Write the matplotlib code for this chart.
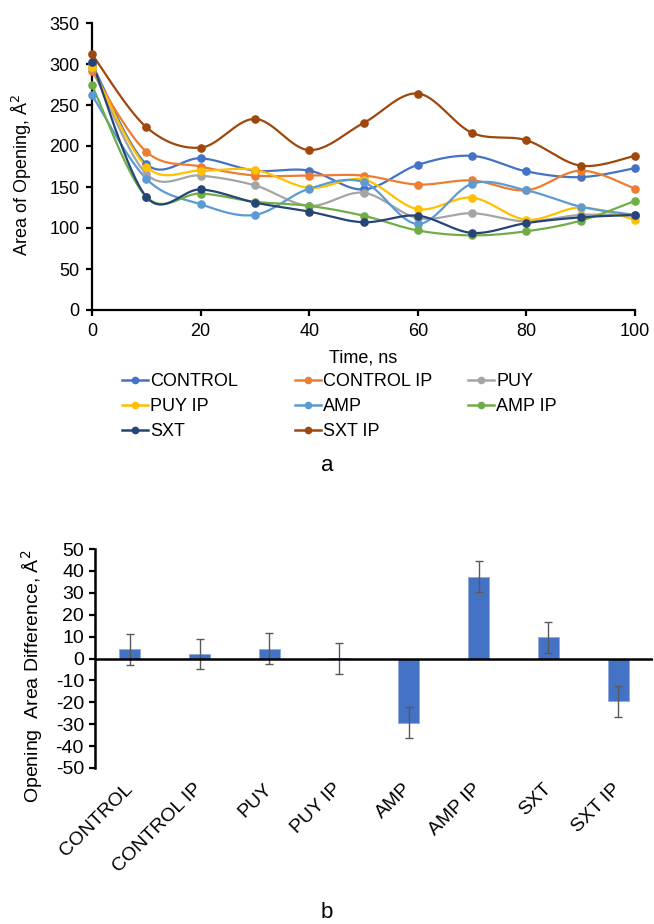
import matplotlib.pyplot as plt
import numpy as np
from matplotlib.ticker import FuncFormatter

plt.rcParams["font.family"] = ["Liberation Sans", "DejaVu Sans"]

# Panel a: area of opening over time
time_ns = [0, 10, 20, 30, 40, 50, 60, 70, 80, 90, 100]
series_names = ["CONTROL", "CONTROL IP", "PUY", "PUY IP", "AMP", "AMP IP", "SXT", "SXT IP"]
control = [300, 178, 185, 170, 170, 147, 177, 188, 169, 162, 173]
control_ip = [291, 193, 175, 164, 164, 164, 153, 158, 146, 170, 148]
puy = [295, 166, 164, 152, 127, 143, 112, 118, 108, 116, 115]
puy_ip = [296, 175, 170, 171, 149, 159, 123, 137, 110, 125, 110]
amp = [262, 160, 129, 116, 148, 156, 105, 154, 146, 126, 116]
amp_ip = [274, 138, 142, 132, 127, 115, 97, 91, 96, 109, 133]
sxt = [302, 138, 147, 131, 120, 107, 115, 94, 106, 113, 116]
sxt_ip = [312, 223, 198, 233, 195, 228, 264, 216, 207, 176, 188]
series_colors = ["#4472C4", "#ED7D31", "#A5A5A5", "#FFC000",
                 "#5B9BD5", "#70AD47", "#264478", "#9E480E"]

# Panel b: opening area difference
groups = ["CONTROL", "CONTROL IP", "PUY", "PUY IP", "AMP", "AMP IP", "SXT", "SXT IP"]
diff = [4.2, 2.0, 4.5, 0.1, -29.3, 37.4, 9.6, -19.6]
diff_err = [7, 7, 7, 7, 7, 7, 7, 7]


def smooth(x, y, n=30):
    # Excel-like smoothed line: cubic Bezier segments with Catmull-Rom control points
    x = np.asarray(x, float)
    y = np.asarray(y, float)
    xs, ys = [], []
    for i in range(len(x) - 1):
        p0 = np.array([x[max(i - 1, 0)], y[max(i - 1, 0)]])
        p1 = np.array([x[i], y[i]])
        p2 = np.array([x[i + 1], y[i + 1]])
        p3 = np.array([x[min(i + 2, len(x) - 1)], y[min(i + 2, len(x) - 1)]])
        c1 = p1 + (p2 - p0) / 6
        c2 = p2 - (p3 - p1) / 6
        t = np.linspace(0, 1, n)[:, None]
        pts = ((1 - t) ** 3) * p1 + 3 * ((1 - t) ** 2) * t * c1 + 3 * (1 - t) * t ** 2 * c2 + t ** 3 * p2
        xs.extend(pts[:, 0])
        ys.extend(pts[:, 1])
    return np.array(xs), np.array(ys)


W, H = 654, 924
fig = plt.figure(figsize=(W / 100, H / 100), dpi=100)

# ---- panel a ----
ax1 = fig.add_axes([92 / W, 1 - 310 / H, (635 - 92) / W, (310 - 23) / H])
all_series = [control, control_ip, puy, puy_ip, amp, amp_ip, sxt, sxt_ip]
handles = []
for name, vals, col in zip(series_names, all_series, series_colors):
    sx, sy = smooth(time_ns, vals)
    ax1.plot(sx, sy, color=col, linewidth=1.6, zorder=2, clip_on=False)
    ax1.plot(time_ns, vals, linestyle="none", marker="o", markersize=5.2,
             color=col, zorder=3, clip_on=False)
    h, = ax1.plot([], [], color=col, linewidth=1.8, marker="o", markersize=4.5, label=name)
    handles.append(h)

ax1.set_xlim(0, 100)
ax1.set_ylim(0, 350)
ax1.set_xticks(range(0, 101, 20))
ax1.set_yticks(range(0, 351, 50))
for side in ["top", "right"]:
    ax1.spines[side].set_visible(False)
for side in ["left", "bottom"]:
    ax1.spines[side].set_linewidth(1.6)
    ax1.spines[side].set_color("black")
ax1.tick_params(labelsize=13, width=1.6, length=4, direction="out", pad=5)
ax1.set_xlabel("Time, ns", fontsize=13)
ax1.xaxis.set_label_coords(0.5, (310 - 358) / 287, transform=ax1.transAxes)
ax1.xaxis.label.set_va("center")
ax1.set_ylabel("Area of Opening, Å$^2$", fontsize=13)
ax1.yaxis.set_label_coords((22 - 92) / 543, 0.47)
ax1.yaxis.label.set_va("center")

# legend: three columns of equal width like the original
col_x = [122, 295, 468]
col_items = [[0, 3, 6], [1, 4, 7], [2, 5]]
for cx, items in zip(col_x, col_items):
    fig.legend([handles[i] for i in items], [series_names[i] for i in items],
               loc="upper left", bbox_to_anchor=(cx / W, 1 - 373 / H),
               frameon=False, fontsize=13, handlelength=1.45, handletextpad=0.12,
               labelspacing=0.45, borderpad=0, borderaxespad=0)

fig.text(327 / W, 1 - 466 / H, "a", ha="center", va="center", fontsize=16)

# ---- panel b ----
ax2 = fig.add_axes([95 / W, 1 - 768 / H, (653 - 95) / W, (768 - 549) / H])
xpos = np.arange(len(groups))
ax2.bar(xpos, diff, width=0.3, color="#4472C4", edgecolor="#8FAADC", linewidth=0.6,
        zorder=2)
ax2.errorbar(xpos, diff, yerr=diff_err, fmt="none", ecolor="#595959", elinewidth=1,
             capsize=3, capthick=1, zorder=3)
ax2.axhline(0, color="black", linewidth=1.8, zorder=4)
ax2.set_xlim(-0.5, len(groups) - 0.5)
ax2.set_ylim(-50, 50)
ax2.set_yticks(range(-50, 51, 10))
ax2.yaxis.set_major_formatter(FuncFormatter(lambda v, p: f"{int(v)}"))
ax2.set_xticks(xpos)
ax2.set_xticklabels(groups, rotation=45, ha="right", va="center", rotation_mode="anchor")
for side in ["top", "right", "bottom"]:
    ax2.spines[side].set_visible(False)
ax2.spines["left"].set_linewidth(1.8)
ax2.tick_params(axis="y", labelsize=14, width=1.6, length=4, pad=4)
ax2.tick_params(axis="x", labelsize=14, length=0, pad=13)
ax2.set_ylabel("Opening  Area Difference, Å$^2$", fontsize=14)
ax2.yaxis.set_label_coords((32 - 95) / 558, 0.42)
ax2.yaxis.label.set_va("center")

fig.text(327 / W, 1 - 912 / H, "b", ha="center", va="center", fontsize=16)

fig.savefig("out.png", dpi=100)
